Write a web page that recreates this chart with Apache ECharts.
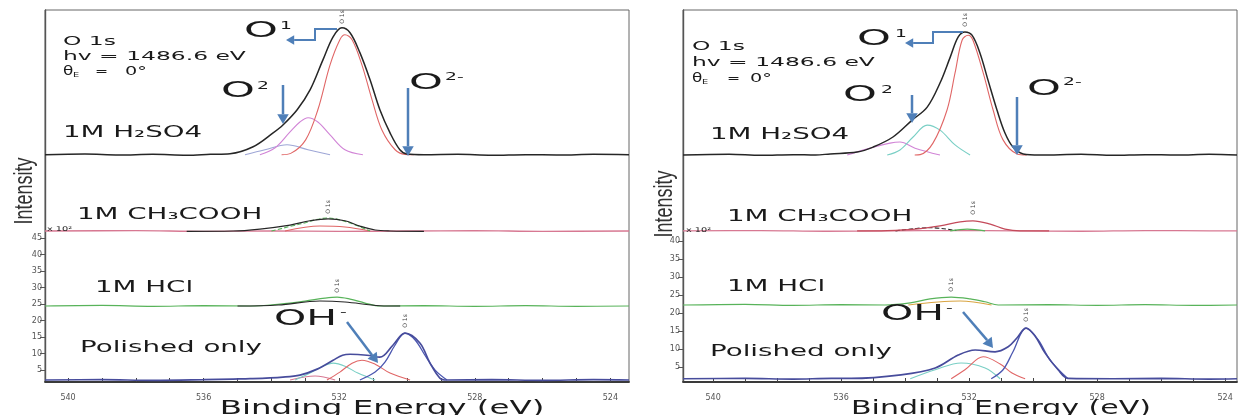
<!DOCTYPE html>
<html><head><meta charset="utf-8">
<script src="https://cdn.jsdelivr.net/npm/echarts@6/dist/echarts.min.js"></script>
<style>html,body{margin:0;padding:0;background:#fff}#c{width:1238px;height:415px}</style>
</head><body><div id="c"></div>
<script>
// ---------- tick labels ----------
const energyLabels = [540, 536, 532, 528, 524];
const energyTicks = [524,525,526,527,528,529,530,531,532,533,534,535,536,537,538,539,540];
const yLabelsLeft = [5, 10, 15, 20, 25, 30, 35, 40, 45];
const yLabelsRight = [5, 10, 15, 20, 25, 30, 35, 40];

// ---------- LEFT PANEL (binding energy eV, intensity x10^2) ----------
const L_H2SO4_env = [[540.68,70.2],[539.5,70.4],[538.5,70.1],[537.5,70.3],[536.5,70.0],[535.8,70.3],[535.22,70.5],[534.54,72.6],[533.95,76.8],[533.66,79.2],[533.24,83.8],[532.86,89.8],[532.48,98.9],[532.18,105.9],[531.92,108.6],[531.68,107.1],[531.39,101.1],[531.09,92.9],[530.80,83.8],[530.50,76.8],[530.21,71.7],[530.0,70.4],[529.5,70.2],[528.5,70.3],[527.5,70.0],[526.5,70.2],[525.5,70.1],[524.5,70.3],[523.45,70.2]];
const L_H2SO4_O1 = [[533.7,70.2],[533.43,70.6],[532.99,74.7],[532.63,83.8],[532.27,97.4],[531.98,105.0],[531.83,106.5],[531.62,105.0],[531.33,97.4],[531.03,86.8],[530.74,77.7],[530.35,71.7],[530.06,70.3],[529.8,70.2]];
const L_H2SO4_O2 = [[534.34,70.2],[533.89,72.3],[533.45,77.1],[533.16,80.1],[532.92,81.4],[532.63,80.1],[532.27,76.2],[531.83,71.7],[531.3,70.2]];
const L_H2SO4_O3 = [[534.78,70.2],[534.19,71.7],[533.54,73.2],[532.92,71.7],[532.27,70.2]];

const L_CH3COOH_base = [[540.68,47.1],[538,47.2],[536,47.0],[534,47.1],[532,47.0],[530,47.1],[528,47.2],[526,47.0],[523.45,47.1]];
const L_CH3COOH_env = [[536.5,47.0],[535.13,47.1],[534.34,47.7],[533.45,48.9],[532.86,50.2],[532.33,50.8],[531.83,50.2],[531.39,48.6],[530.94,47.4],[530.5,47.1],[529.5,47.0]];
const L_CH3COOH_c1 = [[534.0,47.1],[533.16,49.2],[532.33,51.05],[531.68,49.5],[531.09,47.1]];
const L_CH3COOH_c2 = [[533.6,47.1],[532.57,48.6],[531.83,48.3],[531.09,47.1]];

const L_HCl_env = [[540.68,24.4],[539,24.6],[537.5,24.3],[536,24.5],[534.63,24.4],[533.75,25.0],[533.01,25.9],[532.42,26.8],[532.06,27.1],[531.68,26.5],[531.24,25.3],[530.8,24.4],[529.5,24.5],[528,24.3],[526.5,24.5],[525,24.3],[523.45,24.4]];
const L_HCl_c1 = [[535.0,24.4],[533.8,24.7],[532.57,25.9],[531.83,25.6],[530.8,24.5],[530.2,24.4]];

const L_Pol_env = [[540.68,2.0],[539,2.1],[537.5,1.9],[536,2.1],[535.13,2.3],[534.63,2.4],[533.66,2.9],[533.16,3.5],[532.65,5.3],[532.18,8.0],[531.9,9.5],[531.68,9.8],[531.18,9.5],[530.80,8.9],[530.41,12.6],[530.06,16.2],[529.62,13.2],[529.32,7.1],[529.03,2.6],[528.82,2.0],[527.5,2.1],[526,1.9],[524.5,2.1],[523.45,2.0]];
const L_Pol_oxide = [[531.39,2.0],[530.94,4.4],[530.65,7.4],[530.35,12.6],[530.06,16.2],[529.76,14.1],[529.47,9.5],[529.17,5.0],[528.82,2.0]];
const L_Pol_OH = [[532.36,2.0],[531.98,4.4],[531.62,7.1],[531.33,8.0],[530.94,6.8],[530.5,4.1],[529.91,2.0]];
const L_Pol_c3 = [[533.3,2.0],[532.86,4.1],[532.48,6.2],[532.18,7.1],[531.83,6.2],[531.45,4.1],[530.94,2.0]];
const L_Pol_c4 = [[533.45,2.0],[532.71,3.2],[532.12,2.0]];

// ---------- RIGHT PANEL ----------
const R_H2SO4_env = [[540.94,63.9],[539.5,64.1],[538.5,63.8],[537.5,64.0],[536.8,63.9],[536.34,64.2],[535.5,64.7],[535.0,66.1],[534.38,68.9],[533.78,73.6],[533.31,77.2],[532.91,83.9],[532.59,91.1],[532.34,96.7],[532.13,98.1],[531.91,97.2],[531.66,92.2],[531.41,84.7],[531.13,76.4],[530.88,70.0],[530.63,66.1],[530.31,64.2],[529.8,63.9],[528.5,64.1],[527.5,63.8],[526.5,64.0],[525.5,63.9],[524.5,64.1],[523.63,63.9]];
const R_H2SO4_O1 = [[533.7,63.9],[533.53,64.0],[533.13,67.2],[532.69,76.4],[532.44,86.7],[532.22,95.8],[532.03,97.2],[531.88,95.8],[531.56,86.7],[531.25,76.4],[530.94,68.1],[530.5,64.2],[530.2,63.9]];
const R_H2SO4_O2 = [[534.56,63.9],[534.16,65.3],[533.75,68.9],[533.31,72.2],[532.91,70.8],[532.44,66.7],[531.97,63.9]];
const R_H2SO4_O3 = [[535.81,63.9],[535.09,65.8],[534.47,67.2],[534.16,67.5],[533.69,65.8],[532.91,63.9]];

const R_CH3COOH_base = [[540.94,42.8],[538.5,42.9],[536.5,42.7],[534.5,42.8],[532.5,42.9],[530.5,42.8],[528.5,42.7],[526.5,42.9],[524.5,42.8],[523.63,42.8]];
const R_CH3COOH_env = [[535.5,42.8],[534.56,42.9],[533.69,43.3],[532.91,44.2],[532.28,45.3],[531.88,45.6],[531.34,44.7],[530.88,43.3],[530.41,42.8],[529.5,42.8]];
const R_CH3COOH_c1 = [[534.3,42.8],[533.22,43.7],[532.4,42.9]];
const R_CH3COOH_c2 = [[532.59,42.8],[532.06,43.3],[531.5,42.8]];

const R_HCl_env = [[540.94,22.2],[539,22.4],[537.5,22.1],[536,22.3],[534.63,22.2],[533.84,22.8],[533.22,23.9],[532.56,24.4],[531.97,23.9],[531.5,23.1],[531.09,22.2],[529.5,22.3],[528,22.1],[526.5,22.3],[525,22.1],[523.63,22.2]];
const R_HCl_c1 = [[533.9,22.2],[532.28,23.3],[531.3,22.2]];

const R_Pol_env = [[540.94,1.7],[539,1.8],[537.5,1.6],[536.3,1.8],[535.69,1.8],[534.13,2.8],[533.06,4.7],[532.34,8.3],[531.81,9.7],[531.19,9.2],[530.78,10.6],[530.5,13.1],[530.22,15.8],[529.94,13.6],[529.63,8.9],[529.22,4.2],[528.91,1.8],[527.5,1.7],[526,1.8],[524.5,1.6],[523.63,1.7]];
const R_Pol_oxide = [[531.31,1.7],[530.94,4.2],[530.63,9.2],[530.22,15.8],[529.84,12.5],[529.47,6.9],[528.91,1.7]];
const R_Pol_OH = [[532.56,1.7],[532.13,4.2],[531.56,7.8],[531.03,5.8],[530.66,3.3],[530.25,1.7]];
const R_Pol_c3 = [[533.84,1.7],[533.06,4.2],[532.25,6.1],[531.5,4.7],[531.03,1.7]];

// ---------- styling ----------
const C = {
  env: '#262626', red: '#e06666', mag: '#d184d6', bgrey: '#9ea6d6', cyan: '#79cfc5',
  green: '#58b35a', pink: '#d77892', pol: '#474c9c', oxide: '#4b57b0', dark: '#555', orange: '#d9a441'
};
function S(data, color, idx, width, type, z) {
  return { type: 'line', data: data, xAxisIndex: idx, yAxisIndex: idx, symbol: 'none', showSymbol: false,
    smooth: 0.35, silent: true, animation: false, z: z || 2,
    lineStyle: { color: color, width: width || 1.1, type: type || 'solid' } };
}
const series = [
  S(L_H2SO4_O3, C.bgrey, 0), S(L_H2SO4_O2, C.mag, 0), S(L_H2SO4_O1, C.red, 0), S(L_H2SO4_env, C.env, 0, 1.5, 'solid', 3),
  S(L_CH3COOH_base, C.pink, 0, 1.3), S(L_CH3COOH_c2, C.red, 0), S(L_CH3COOH_env, C.env, 0, 1.2, 'solid', 3), S(L_CH3COOH_c1, C.green, 0, 1.1, 'dashed'),
  S(L_HCl_env, C.green, 0, 1.2), S(L_HCl_c1, C.env, 0, 1.1),
  S(L_Pol_c4, C.pink, 0), S(L_Pol_c3, C.cyan, 0), S(L_Pol_OH, C.red, 0), S(L_Pol_oxide, C.oxide, 0, 1.3), S(L_Pol_env, C.pol, 0, 1.7, 'solid', 3),

  S(R_H2SO4_O3, C.mag, 1), S(R_H2SO4_O2, C.cyan, 1), S(R_H2SO4_O1, C.red, 1), S(R_H2SO4_env, C.env, 1, 1.5, 'solid', 3),
  S(R_CH3COOH_base, C.pink, 1, 1.3), S(R_CH3COOH_c1, C.env, 1, 1.1, 'dashed'), S(R_CH3COOH_c2, C.green, 1), S(R_CH3COOH_env, '#c44a5a', 1, 1.3, 'solid', 3),
  S(R_HCl_env, C.green, 1, 1.2), S(R_HCl_c1, C.orange, 1),
  S(R_Pol_c3, C.cyan, 1), S(R_Pol_OH, C.red, 1), S(R_Pol_oxide, C.oxide, 1, 1.3), S(R_Pol_env, C.pol, 1, 1.7, 'solid', 3)
];

function xAx(idx, min, max) {
  return { gridIndex: idx, type: 'value', inverse: true, min: min, max: max,
    axisLine: { show: true, onZero: false, lineStyle: { color: '#3a3a3a', width: 1.8 } },
    axisTick: { show: true, customValues: energyTicks, length: 4, inside: true, lineStyle: { color: '#444' } },
    axisLabel: { customValues: energyLabels, fontSize: 8, color: '#555', margin: 12, fontFamily: 'DejaVu Sans' },
    splitLine: { show: false } };
}
function yAx(idx, min, max, labels) {
  return { gridIndex: idx, type: 'value', min: min, max: max,
    axisLine: { show: true, onZero: false, lineStyle: { color: '#555', width: 1.4 } },
    axisTick: { show: true, customValues: labels, length: 5, lineStyle: { color: '#555' } },
    axisLabel: { customValues: labels, fontSize: 8, color: '#555', margin: 3, fontFamily: 'DejaVu Sans' },
    splitLine: { show: false } };
}

// ---------- annotations ----------
const FONT = 'DejaVu Sans';
function T(x, y, text, fs, sx, extra) {
  const e = { type: 'text', x: x, y: y, scaleX: sx, z: 100, silent: true,
    style: { text: text, fill: '#1a1a1a', fontSize: fs, fontFamily: FONT, align: 'left', verticalAlign: 'middle' } };
  if (extra) { Object.assign(e, extra.el || {}); Object.assign(e.style, extra.st || {}); }
  return e;
}
function arrow(pts, tip, w) {
  const last = pts[pts.length - 1];
  const dx = tip[0] - last[0], dy = tip[1] - last[1];
  const len = Math.sqrt(dx * dx + dy * dy);
  const ux = dx / len, uy = dy / len;
  const hw = w * 1.9 + 1;
  const bx = tip[0] - ux * (hw * 1.7), by = tip[1] - uy * (hw * 1.7);
  const col = '#4f7fb8';
  const linePts = pts.slice(0, -1).concat([[bx, by]]);
  return [
    { type: 'polyline', z: 99, silent: true, shape: { points: linePts }, style: { stroke: col, lineWidth: w, fill: null } },
    { type: 'polygon', z: 99, silent: true, shape: { points: [tip, [bx - uy * hw, by + ux * hw], [bx + uy * hw, by - ux * hw]] }, style: { fill: col } }
  ];
}
function peakTag(x, y) {
  return { type: 'text', x: x, y: y, rotation: Math.PI / 2, z: 100, silent: true,
    style: { text: 'O 1s', fill: '#444', fontSize: 6, fontFamily: FONT, align: 'center', verticalAlign: 'middle' } };
}
function infoBlock(x, y0, dy, eqOff, zeroOff) {
  return [
    T(x, y0, 'O 1s', 12, 1.95),
    T(x, y0 + dy, 'hv = 1486.6 eV', 12, 1.95),
    T(x, y0 + 2 * dy, 'θ', 12, 1.4),
    T(x + 10, y0 + 2 * dy + 3, 'E', 7, 1.4),
    T(x + eqOff, y0 + 2 * dy, '=', 12, 1.3),
    T(x + zeroOff, y0 + 2 * dy, '0°', 12, 1.6)
  ];
}
const BIG = 21, BSX = 2.05, SUP = 11;
let graphics = [];
// left panel text
graphics = graphics.concat(infoBlock(63, 42, 15, 32, 62));
graphics.push(
  T(244, 32, 'O', BIG, BSX), T(280, 26, '1', SUP, 1.7),
  T(221, 92, 'O', BIG, BSX), T(257, 86, '2', SUP, 1.7),
  T(409, 84, 'O', BIG, BSX), T(445, 77, '2-', SUP, 1.7),
  T(274, 320, 'OH', BIG, 1.95), T(340, 312, '-', SUP, 1.7),
  T(63, 133, '1M H₂SO4', 16, 1.73),
  T(77, 215, '1M CH₃COOH', 16, 1.73),
  T(95, 288, '1M HCl', 16, 1.73),
  T(80, 348, 'Polished only', 16, 1.73),
  T(47, 229, 'x 10²', 6.5, 1.5),
  { type: 'text', x: 25, y: 191, rotation: Math.PI / 2, scaleY: 1.45, z: 100, silent: true,
    style: { text: 'Intensity', fill: '#333', fontSize: 18, fontFamily: 'Liberation Sans', align: 'center', verticalAlign: 'middle' } },
  T(382, 409, 'Binding Energy (eV)', 19, 1.71, { st: { align: 'center' } }),
  peakTag(342, 17), peakTag(328, 207), peakTag(337, 286), peakTag(405, 321)
);
graphics = graphics.concat(
  arrow([[337, 29], [315, 29], [315, 40], [294, 40]], [286, 40], 2),
  arrow([[283, 85], [283, 116]], [283, 124], 2.5),
  arrow([[408, 88], [408, 146]], [408, 156], 2.5),
  arrow([[347, 322], [372, 355]], [378, 363], 2.5)
);
// right panel text
graphics = graphics.concat(infoBlock(692, 47, 16, 35, 58));
graphics.push(
  T(857, 40, 'O', BIG, BSX), T(895, 34, '1', SUP, 1.7),
  T(843, 96, 'O', BIG, BSX), T(881, 90, '2', SUP, 1.7),
  T(1027, 90, 'O', BIG, BSX), T(1063, 82, '2-', SUP, 1.7),
  T(881, 315, 'OH', BIG, 1.95), T(946, 308, '-', SUP, 1.7),
  T(710, 135, '1M H₂SO4', 16, 1.73),
  T(727, 217, '1M CH₃COOH', 16, 1.73),
  T(727, 287, '1M HCl', 16, 1.73),
  T(710, 352, 'Polished only', 16, 1.73),
  T(686, 230, 'x 10²', 6.5, 1.5),
  { type: 'text', x: 665, y: 204, rotation: Math.PI / 2, scaleY: 1.45, z: 100, silent: true,
    style: { text: 'Intensity', fill: '#333', fontSize: 18, fontFamily: 'Liberation Sans', align: 'center', verticalAlign: 'middle' } },
  T(1001, 409, 'Binding Energy (eV)', 19, 1.58, { st: { align: 'center' } }),
  peakTag(965, 20), peakTag(973, 208), peakTag(951, 285), peakTag(1026, 315)
);
graphics = graphics.concat(
  arrow([[963, 32], [933, 32], [933, 43], [913, 43]], [905, 43], 2),
  arrow([[912, 95], [912, 114]], [912, 123], 2.5),
  arrow([[1017, 97], [1017, 145]], [1017, 155], 2.5),
  arrow([[963, 312], [987, 340]], [993, 348], 2.5)
);

const chart = echarts.init(document.getElementById('c'), null, { renderer: 'canvas' });
chart.setOption({
  animation: false,
  backgroundColor: '#ffffff',
  grid: [
    { left: 45, right: 609, top: 10, bottom: 33, show: true, borderColor: '#666', borderWidth: 1, outerBoundsMode: 'none', containLabel: false },
    { left: 683, right: 1, top: 10, bottom: 33, show: true, borderColor: '#666', borderWidth: 1, outerBoundsMode: 'none', containLabel: false }
  ],
  xAxis: [xAx(0, 523.45, 540.68), xAx(1, 523.63, 540.94)],
  yAxis: [yAx(0, 1.4, 114, yLabelsLeft), yAx(1, 0.8, 104.2, yLabelsRight)],
  series: series,
  graphic: graphics
});
</script>
</body></html>
